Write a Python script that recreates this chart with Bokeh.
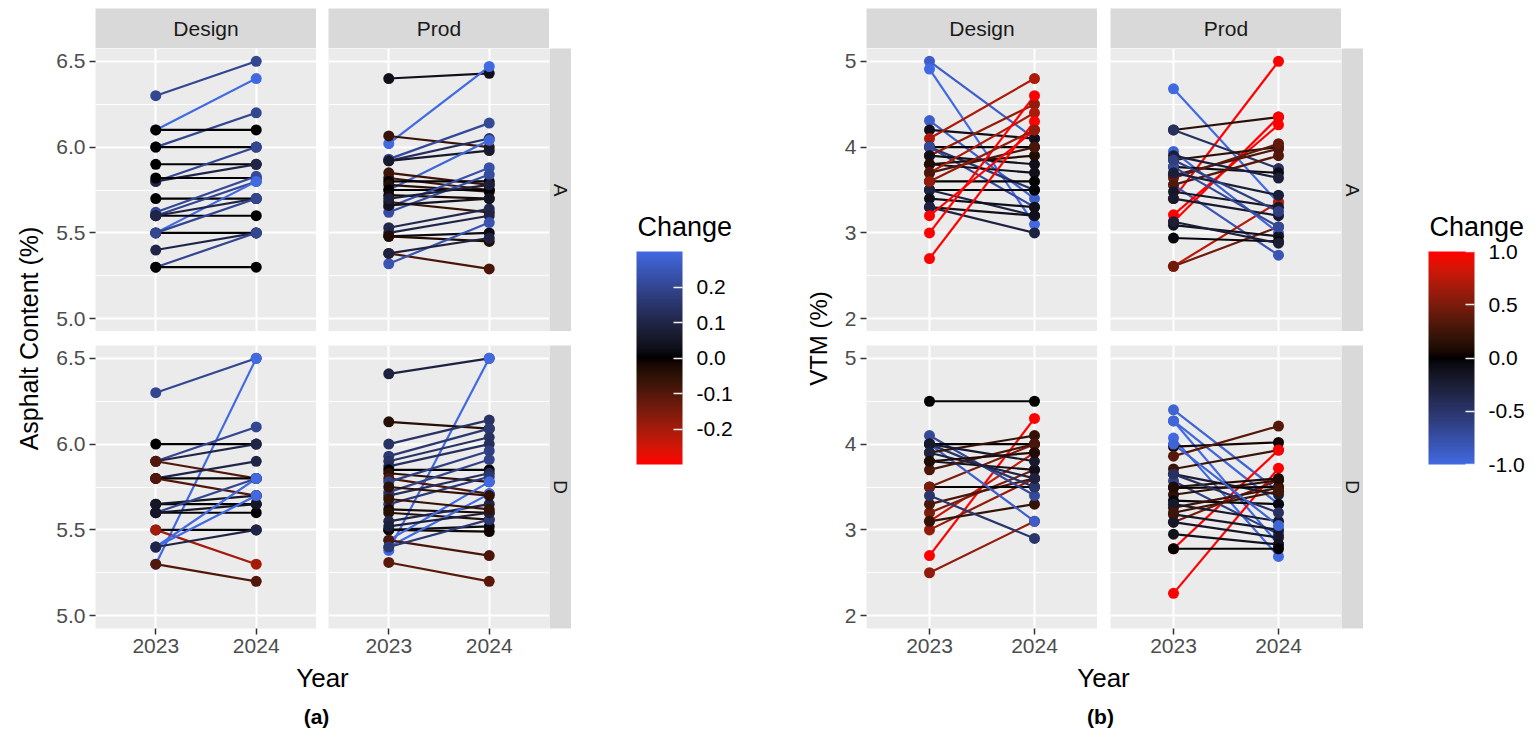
import numpy as np
from math import pi
from bokeh.plotting import figure
from bokeh.layouts import row, column
from bokeh.models import (Range1d, FactorRange, FixedTicker, PrintfTickFormatter,
                          ColorBar, LinearColorMapper, Spacer, ColumnDataSource)
from bokeh.core.properties import value
from bokeh.embed import file_html
from bokeh.resources import INLINE

# ---------------- data ----------------
years = ["2023", "2024"]

# (a) Asphalt content (%)
ac_design_A_2023 = [6.3, 6.1, 6.0, 6.1, 6.0, 5.9, 5.8, 5.8, 5.82, 5.7, 5.6, 5.62, 5.5, 5.6, 5.5, 5.6, 5.4, 5.3, 5.3, 5.5]
ac_design_A_2024 = [6.5, 6.4, 6.2, 6.1, 6.0, 5.9, 6.0, 5.9, 5.82, 5.7, 5.8, 5.83, 5.8, 5.6, 5.5, 5.7, 5.5, 5.5, 5.3, 5.7]
ac_prod_A_2023 = [6.40, 6.02, 6.065, 5.93, 5.92, 5.92, 5.75, 5.85, 5.82, 5.80, 5.78, 5.75, 5.72, 5.65, 5.62, 5.68,
                  5.53, 5.50, 5.48, 5.48, 5.38, 5.32, 5.38, 5.66, 5.70]
ac_prod_A_2024 = [6.43, 6.47, 6.00, 6.14, 6.05, 5.98, 6.04, 5.78, 5.75, 5.80, 5.74, 5.75, 5.70, 5.88, 5.84, 5.62,
                  5.64, 5.60, 5.50, 5.45, 5.29, 5.56, 5.47, 5.70, 5.78]
ac_design_D_2023 = [6.3, 5.3, 6.0, 5.9, 5.9, 5.9, 5.8, 5.8, 5.8, 5.65, 5.65, 5.6, 5.6, 5.6, 5.5, 5.5, 5.4, 5.4, 5.4, 5.3]
ac_design_D_2024 = [6.5, 6.5, 6.0, 6.1, 6.0, 5.8, 5.9, 5.8, 5.7, 5.65, 5.7, 5.8, 5.6, 5.65, 5.5, 5.3, 5.8, 5.7, 5.5, 5.2]
ac_prod_D_2023 = [6.41, 5.38, 6.13, 6.0, 5.93, 5.9, 5.87, 5.85, 5.83, 5.8, 5.72, 5.7, 5.65, 5.62, 5.6, 5.55, 5.5,
                  5.5, 5.44, 5.40, 5.44, 5.31, 5.40, 5.52, 5.78, 5.68, 5.75]
ac_prod_D_2024 = [6.5, 6.5, 6.09, 6.14, 6.09, 6.04, 6.0, 5.85, 5.78, 5.71, 5.91, 5.83, 5.81, 5.6, 5.56, 5.65, 5.52,
                  5.49, 5.78, 5.71, 5.35, 5.2, 5.56, 5.6, 5.96, 5.62, 5.70]

# (b) VTM (%)
vtm_design_A_2023 = [5.0, 4.91, 4.31, 4.2, 4.1, 4.0, 4.0, 4.0, 3.9, 3.9, 3.8, 3.8, 3.7, 3.7, 3.6, 3.5, 3.5, 3.4,
                     3.3, 3.3, 3.2, 3.0, 2.7, 3.6]
vtm_design_A_2024 = [4.1, 3.1, 3.4, 4.1, 4.8, 4.0, 3.5, 3.3, 4.5, 3.8, 3.7, 3.9, 4.4, 4.0, 3.6, 3.5, 3.2, 3.3,
                     3.2, 3.0, 4.2, 4.6, 4.3, 4.2]
vtm_prod_A_2023 = [4.68, 3.4, 3.56, 2.61, 2.61, 4.2, 4.2, 3.21, 3.13, 3.85, 3.95, 3.77, 3.67, 3.64, 3.56, 3.48,
                   3.4, 3.09, 2.94, 3.13, 3.77, 3.9, 3.7, 3.85]
vtm_prod_A_2024 = [3.35, 5.0, 2.74, 3.36, 3.07, 4.35, 3.75, 4.26, 4.35, 4.0, 3.0, 3.7, 3.98, 4.04, 3.9, 3.3,
                   3.2, 2.96, 2.9, 2.88, 3.07, 3.64, 3.44, 3.25]
vtm_design_D_2023 = [4.5, 2.7, 2.5, 3.0, 3.1, 3.2, 3.3, 3.1, 3.5, 3.5, 3.4, 4.0, 4.1, 4.0, 4.0, 3.9, 3.8, 3.7,
                     4.0, 3.9, 3.8]
vtm_design_D_2024 = [4.5, 4.3, 3.1, 3.6, 3.9, 3.7, 3.6, 3.3, 3.5, 4.0, 2.9, 3.1, 3.4, 3.5, 4.0, 4.1, 3.7, 4.0,
                     3.8, 3.6, 3.9]
vtm_prod_D_2023 = [4.40, 4.27, 4.27, 4.07, 3.97, 3.86, 3.71, 2.78, 2.26, 3.09, 3.65, 3.57, 3.49, 3.41, 3.34,
                   3.26, 3.18, 3.09, 2.95, 3.5, 3.3, 2.78, 3.65, 3.2, 4.0]
vtm_prod_D_2024 = [3.45, 2.83, 3.3, 2.69, 4.02, 4.21, 3.93, 3.93, 3.72, 3.58, 3.41, 2.95, 3.5, 3.58, 3.3,
                   3.49, 3.0, 2.91, 2.83, 3.6, 3.1, 2.78, 3.2, 3.45, 3.05]

ac_ticks = [5.0, 5.5, 6.0, 6.5]
ac_minor = [5.25, 5.75, 6.25]
vtm_ticks = [2, 3, 4, 5]
vtm_minor = [2.5, 3.5, 4.5]
ac_legend_ticks = [-0.2, -0.1, 0.0, 0.1, 0.2]
vtm_legend_ticks = [-1.0, -0.5, 0.0, 0.5, 1.0]

FONT = "Liberation Sans"

# ---------------- colour (Lab interpolation like ggplot) ----------------
M = np.array([[0.4124564, 0.3575761, 0.1804375],
              [0.2126729, 0.7151522, 0.0721750],
              [0.0193339, 0.1191920, 0.9503041]])
MINV = np.linalg.inv(M)
WHITE = np.array([0.95047, 1.0, 1.08883])
EPS = 216 / 24389
KAP = 24389 / 27


def hex_to_lab(h):
    rgb = np.array([int(h[i:i + 2], 16) for i in (1, 3, 5)], float) / 255
    lin = np.where(rgb <= 0.04045, rgb / 12.92, ((rgb + 0.055) / 1.055) ** 2.4)
    xyz = (M @ lin) / WHITE
    f = np.where(xyz > EPS, np.cbrt(xyz), (KAP * xyz + 16) / 116)
    return np.array([116 * f[1] - 16, 500 * (f[0] - f[1]), 200 * (f[1] - f[2])])


def lab_to_hex(lab):
    L, a, b = lab
    fy = (L + 16) / 116
    f = np.array([fy + a / 500, fy, fy - b / 200])
    xyz = np.where(f ** 3 > EPS, f ** 3, (116 * f - 16) / KAP) * WHITE
    lin = np.clip(MINV @ xyz, 0, 1)
    s = np.where(lin <= 0.0031308, 12.92 * lin, 1.055 * lin ** (1 / 2.4) - 0.055)
    r, g, bb = np.clip(np.round(s * 255), 0, 255).astype(int)
    return "#%02x%02x%02x" % (r, g, bb)


def grad_color(v, lim, neg_col, pos_col):
    v = min(max(v, -lim), lim)
    mid = hex_to_lab("#000000")
    if v < 0:
        lab = mid + (-v / lim) * (hex_to_lab(neg_col) - mid)
    else:
        lab = mid + (v / lim) * (hex_to_lab(pos_col) - mid)
    return lab_to_hex(lab)


RED = "#FF0000"
BLUE = "#4169E1"
STRIP_W = 22

# ---------------- builders ----------------

def base_fig(w, h, **kw):
    opts = dict(width=w, height=h, output_backend="svg", toolbar_location=None, title=None,
                min_border=0, border_fill_color="white", outline_line_color=None)
    opts.update(kw)
    return figure(**opts)


def facet(y23, y24, ylim, yticks, yminor, yfmt, lim, neg_col, pos_col,
          frame_w, frame_h, mbl, mbb, left_axis, bottom_axis):
    change = [b - a for a, b in zip(y23, y24)]
    cols = [grad_color(c, lim, neg_col, pos_col) for c in change]
    n = len(y23)
    p = base_fig(frame_w + mbl, frame_h + mbb,
                 x_range=FactorRange(factors=years, range_padding=0.1),
                 y_range=Range1d(*ylim),
                 x_axis_location="below" if bottom_axis else None,
                 y_axis_location="left" if left_axis else None,
                 min_border_left=mbl, min_border_bottom=mbb,
                 background_fill_color="#EBEBEB")
    p.xgrid.grid_line_color = "white"
    p.xgrid.grid_line_width = 2
    p.ygrid.ticker = FixedTicker(ticks=yticks, minor_ticks=yminor)
    p.ygrid.grid_line_color = "white"
    p.ygrid.grid_line_width = 2
    p.ygrid.minor_grid_line_color = "white"
    p.ygrid.minor_grid_line_width = 1
    lines = ColumnDataSource(dict(x0=[years[0]] * n, x1=[years[1]] * n, y0=y23, y1=y24, color=cols))
    p.segment(x0="x0", y0="y0", x1="x1", y1="y1", line_color="color", line_width=2.2, source=lines)
    pts = ColumnDataSource(dict(x=[years[0]] * n + [years[1]] * n, y=list(y23) + list(y24), color=cols + cols))
    p.scatter(x="x", y="y", size=11, fill_color="color", line_color=None, source=pts)
    for ax in list(p.xaxis) + list(p.yaxis):
        ax.axis_line_color = None
        ax.major_tick_line_color = "#333333"
        ax.major_tick_line_width = 1.5
        ax.major_tick_out = 6
        ax.major_tick_in = 0
        ax.minor_tick_line_color = None
        ax.major_label_text_font = FONT
        ax.major_label_text_font_size = "21px"
        ax.major_label_text_color = "#4D4D4D"
        ax.major_label_standoff = 4
    if left_axis:
        p.yaxis.ticker = FixedTicker(ticks=yticks)
        p.yaxis.formatter = PrintfTickFormatter(format=yfmt)
    return p


def strip(text, w, h, vertical=False, mbb=0):
    p = base_fig(w, h + mbb, x_range=Range1d(0, 1), y_range=Range1d(0, 1),
                 x_axis_location=None, y_axis_location=None, min_border_bottom=mbb,
                 background_fill_color="#D9D9D9")
    p.grid.visible = False
    p.text(x=[0.5], y=[0.5], text=[text], angle=-pi / 2 if vertical else 0,
           text_align="center", text_baseline="middle", text_font=value(FONT),
           text_font_size="19px" if vertical else "21px", text_color="#1A1A1A")
    return p


def text_fig(x0, x1, y_top, y_bot, items):
    """Figure whose data space follows page pixels: x to the right, y measured up from y_bot."""
    h = y_bot - y_top
    p = base_fig(x1 - x0, h, x_range=Range1d(x0, x1), y_range=Range1d(0, h),
                 x_axis_location=None, y_axis_location=None, background_fill_color="white")
    p.grid.visible = False
    for (tx, ty, txt, ang, size, style) in items:
        p.text(x=[tx], y=[y_bot - ty], text=[txt], angle=ang, text_align="center", text_baseline="middle",
               text_font=value(FONT), text_font_size=size, text_font_style=style, text_color="black")
    return p


def legend_col(x0, x1, bar_left, lim, neg_col, pos_col, ticks):
    pad = 51
    bar_top = 251
    mbl = bar_left - x0 - pad
    mbt = bar_top - 8 - pad
    frame_top = 8 + mbt
    p = base_fig(x1 - x0, 720, x_range=Range1d(x0 + mbl, x1), y_range=Range1d(0, 728 - frame_top),
                 x_axis_location=None, y_axis_location=None,
                 min_border_left=mbl, min_border_top=mbt, background_fill_color="white")
    p.grid.visible = False
    p.text(x=[bar_left + 1], y=[728 - 226], text=["Change"], text_align="left", text_baseline="middle",
           text_font=value(FONT), text_font_size="27px", text_color="black")
    palette = [grad_color(v, lim, neg_col, pos_col) for v in np.linspace(-lim, lim, 256)]
    mapper = LinearColorMapper(palette=palette, low=-lim, high=lim)
    cb = ColorBar(color_mapper=mapper, location="top_left", orientation="vertical",
                  width=46, height=213, margin=0, padding=pad,
                  ticker=FixedTicker(ticks=ticks), formatter=PrintfTickFormatter(format="%.1f"),
                  major_label_text_font=FONT, major_label_text_font_size="21px",
                  major_label_text_color="black", label_standoff=14,
                  major_tick_line_color="#F2F2F2", major_tick_line_width=1.5,
                  major_tick_in=9, major_tick_out=0, minor_tick_line_color=None,
                  bar_line_color=None, border_line_color=None, background_fill_alpha=0)
    p.add_layout(cb, "center")
    return column(p)


def block(x0, mbl, fw, gap, ylim, yticks, yminor, yfmt, lim, neg_col, pos_col,
          dA, pA, dD, pD, tag, year_x, tag_x):
    mbb = 36
    col_w = mbl + fw + gap + fw + STRIP_W
    strips = row(Spacer(width=mbl, height=40), strip("Design", fw, 40), Spacer(width=gap, height=40),
                 strip("Prod", fw, 40), Spacer(width=STRIP_W, height=40))
    top = row(facet(dA[0], dA[1], ylim, yticks, yminor, yfmt, lim, neg_col, pos_col, fw, 283, mbl, 0, True, False),
              facet(pA[0], pA[1], ylim, yticks, yminor, yfmt, lim, neg_col, pos_col, fw, 283, gap, 0, False, False),
              strip("A", STRIP_W, 283, vertical=True))
    bot = row(facet(dD[0], dD[1], ylim, yticks, yminor, yfmt, lim, neg_col, pos_col, fw, 283, mbl, mbb, True, True),
              facet(pD[0], pD[1], ylim, yticks, yminor, yfmt, lim, neg_col, pos_col, fw, 283, gap, mbb, False, True),
              strip("D", STRIP_W, 283, vertical=True, mbb=mbb))
    bottom_text = text_fig(x0, x0 + col_w, 664, 728,
                           [(year_x, 677, "Year", 0, "26px", "normal"),
                            (tag_x, 716, tag, 0, "21px", "bold")])
    return column(strips, top, Spacer(width=col_w, height=14), bot, bottom_text)


# ---------------- panel (a) ----------------
ytitle_a = text_fig(8, 48, 8, 728, [(28, 338, "Asphalt Content (%)", pi / 2, "25px", "normal")])
col_a = block(48, 47, 221, 12, (4.925, 6.575), ac_ticks, ac_minor, "%.1f", 0.3, RED, BLUE,
              (ac_design_A_2023, ac_design_A_2024), (ac_prod_A_2023, ac_prod_A_2024),
              (ac_design_D_2023, ac_design_D_2024), (ac_prod_D_2023, ac_prod_D_2024),
              "(a)", 322, 316)
a_end = 48 + 47 + 221 + 12 + 221 + STRIP_W
legend_a = legend_col(a_end, 800, 636, 0.3, RED, BLUE, ac_legend_ticks)

# ---------------- panel (b) ----------------
ytitle_b = text_fig(800, 836, 8, 728, [(818, 338, "VTM (%)", pi / 2, "24px", "normal")])
col_b = block(836, 30, 231, 13, (1.85, 5.15), vtm_ticks, vtm_minor, "%d", 1.0, BLUE, RED,
              (vtm_design_A_2023, vtm_design_A_2024), (vtm_prod_A_2023, vtm_prod_A_2024),
              (vtm_design_D_2023, vtm_design_D_2024), (vtm_prod_D_2023, vtm_prod_D_2024),
              "(b)", 1103, 1100)
b_end = 836 + 30 + 231 + 13 + 231 + STRIP_W
legend_b = legend_col(b_end, 1536, 1428, 1.0, BLUE, RED, vtm_legend_ticks)

content = row(column(ytitle_a), col_a, legend_a, column(ytitle_b), col_b, legend_b)
layout = column(Spacer(width=1536, height=8), row(Spacer(width=8, height=720), content))

open("out.html", "w").write(file_html(layout, INLINE))
